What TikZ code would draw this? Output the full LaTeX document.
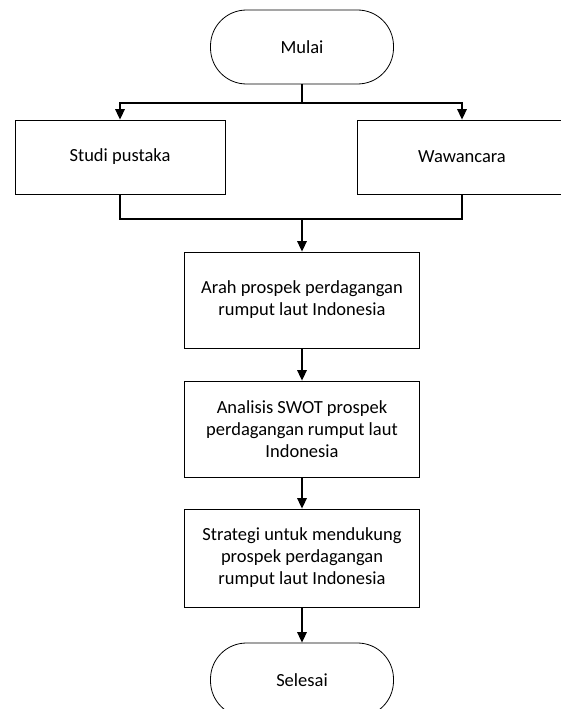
\documentclass[tikz,border=0pt]{standalone}
\usepackage{fontspec}
\setmainfont{Carlito}
\usepackage{tikz}
\usetikzlibrary{arrows.meta, positioning}

\tikzset{
  proses/.style={rectangle, draw, line width=0.8pt, align=center,
    minimum width=235pt, minimum height=96pt, inner sep=2pt},
  terminal/.style={rectangle, rounded corners=36pt, draw, line width=0.8pt,
    minimum width=183pt, minimum height=74pt},
  garis/.style={line width=1.6pt},
  panah/.style={garis, -{Triangle[width=9.5pt,length=10.5pt]}}
}

\begin{document}
\begin{tikzpicture}[x=1pt, y=-1pt, font=\fontsize{18.5pt}{22pt}\selectfont]
\clip (0,0) rectangle (561,709);
\node[terminal] (mulai) at (302,47) {Mulai};
\node[proses, minimum width=210pt, minimum height=74pt] (studi) at (120,157) {Studi pustaka};
\node[proses, minimum width=210pt, minimum height=74pt] (wawancara) at (462,157) {Wawancara};
\node[proses] (arah) at (302,300) {Arah prospek perdagangan\\rumput laut Indonesia};
\node[proses] (swot) at (302,429) {Analisis SWOT prospek\\perdagangan rumput laut\\Indonesia};
\node[proses, minimum height=98pt] (strategi) at (302,558) {Strategi untuk mendukung\\prospek perdagangan\\rumput laut Indonesia};
\node[terminal] (selesai) at (302,680) {Selesai};
\coordinate (bagi) at (302,103);
\coordinate (gabung) at (302,219);
\draw[garis] (mulai) -- (bagi);
\draw[panah] (bagi) -| (studi);
\draw[panah] (bagi) -| (wawancara);
\draw[garis] (studi) |- (gabung);
\draw[garis] (wawancara) |- (gabung);
\draw[panah] (gabung) -- (arah);
\draw[panah] (arah) -- (swot);
\draw[panah] (swot) -- (strategi);
\draw[panah] (strategi) -- (selesai);
\end{tikzpicture}
\end{document}
